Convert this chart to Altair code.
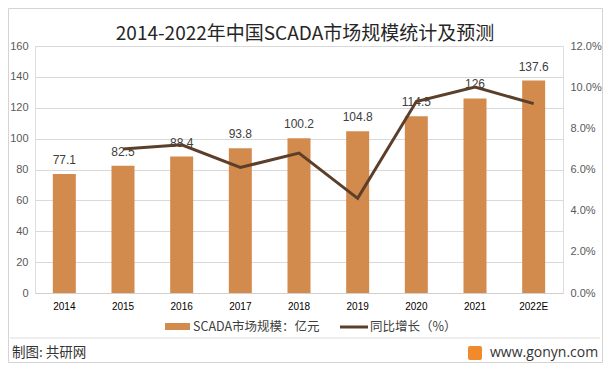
import altair as alt
import pandas as pd

years = ["2014", "2015", "2016", "2017", "2018", "2019", "2020", "2021", "2022E"]
market = [77.1, 82.5, 88.4, 93.8, 100.2, 104.8, 114.5, 126, 137.6]
growth = [None, 0.070, 0.072, 0.061, 0.068, 0.046, 0.093, 0.100, 0.092]
left_ticks = [0, 20, 40, 60, 80, 100, 120, 140, 160]
right_ticks = [0, 0.02, 0.04, 0.06, 0.08, 0.10, 0.12]

bar_name = "SCADA市场规模：亿元"
line_name = "同比增长（%）"
title_text = "2014-2022年中国SCADA市场规模统计及预测"
credit = "制图: 共研网"
site = "www.gonyn.com"

df = pd.DataFrame({"year": years, "market": market, "growth": growth})

CJK = "Noto Sans CJK SC"
NUM = "Liberation Sans"
BAR = "#D38B4D"
LINE = "#5B3F2B"

x_enc = alt.X("year:N", sort=years, title=None,
              scale=alt.Scale(paddingInner=0, paddingOuter=0),
              axis=alt.Axis(labelAngle=0, labelFont=NUM, labelFontSize=10, labelColor="#000",
                            ticks=False, domainColor="#d0d0d0", labelPadding=8))

left_axis = alt.Axis(values=left_ticks, tickCount=9, ticks=False, domain=False,
                     labelOverlap=False, labelFont=NUM, labelFontSize=11, labelColor="#595959",
                     labelPadding=7, gridColor="#d9d9d9")
y_left = alt.Y("market:Q", scale=alt.Scale(domain=[0, 160]), title=None, axis=left_axis)

bars = alt.Chart(df).mark_bar(color=BAR, size=23).encode(x=x_enc, y=y_left)
labels = alt.Chart(df).mark_text(baseline="bottom", dy=-7, font=NUM, fontSize=12, color="#404040").encode(
    x=alt.X("year:N", sort=years),
    y=y_left,
    text=alt.Text("market:Q"),
)
left = alt.layer(bars, labels)

line = alt.Chart(df).transform_filter("datum.growth != null").mark_line(color=LINE, strokeWidth=3).encode(
    x=alt.X("year:N", sort=years),
    y=alt.Y("growth:Q", scale=alt.Scale(domain=[0, 0.12]), title=None,
            axis=alt.Axis(orient="right", format=".1%", values=right_ticks,
                          ticks=False, domain=False, grid=False, labelOverlap=False, labelFont=NUM,
                          labelFontSize=11, labelColor="#595959", labelPadding=7)),
)

one = lambda s: pd.DataFrame({"t": [s]})

deco = [
    alt.Chart(one("")).mark_rect(fill="transparent", stroke="#d4d4d4", strokeWidth=1).encode(
        x=alt.value(-26.5), x2=alt.value(567.5), y=alt.value(-37.5), y2=alt.value(316.5)),
    alt.Chart(one(title_text)).mark_text(align="center", baseline="middle", font=CJK, fontSize=19,
                                         color="#262626").encode(
        x=alt.value(270), y=alt.value(-12), text="t:N"),
    alt.Chart(one("")).mark_rule(color="#dddddd", strokeWidth=1).encode(
        x=alt.value(-25), x2=alt.value(565), y=alt.value(292)),
    alt.Chart(one(bar_name)).mark_rect(color=BAR).encode(
        x=alt.value(130), x2=alt.value(155), y=alt.value(277), y2=alt.value(284)),
    alt.Chart(one(bar_name)).mark_text(align="left", baseline="middle", font=CJK, fontSize=12.5, color="#404040").encode(
        x=alt.value(158), y=alt.value(281), text="t:N"),
    alt.Chart(one(line_name)).mark_rule(color=LINE, strokeWidth=3).encode(
        x=alt.value(305), x2=alt.value(333), y=alt.value(281)),
    alt.Chart(one(line_name)).mark_text(align="left", baseline="middle", font=CJK, fontSize=12.5, color="#404040").encode(
        x=alt.value(335), y=alt.value(281), text="t:N"),
    alt.Chart(one(credit)).mark_text(align="left", baseline="middle", font=CJK, fontSize=13.5, color="#333333").encode(
        x=alt.value(-23), y=alt.value(307), text="t:N"),
    alt.Chart(one("")).mark_rect(color="#F08A2C", cornerRadius=2).encode(
        x=alt.value(433), x2=alt.value(447), y=alt.value(300), y2=alt.value(314)),
    alt.Chart(one(site)).mark_text(align="left", baseline="middle", font="Open Sans", fontSize=14, color="#333333").encode(
        x=alt.value(455), y=alt.value(307), text="t:N"),
]

chart = alt.layer(left, line, *deco).resolve_scale(y="independent").properties(
    width=528, height=247,
    autosize=alt.AutoSizeParams(type="none"),
    padding={"left": 27, "top": 38, "right": 40, "bottom": 70},
).configure_view(stroke=None).configure(background="white")

chart.save("out.html", embed_options={"renderer": "svg", "actions": False})
